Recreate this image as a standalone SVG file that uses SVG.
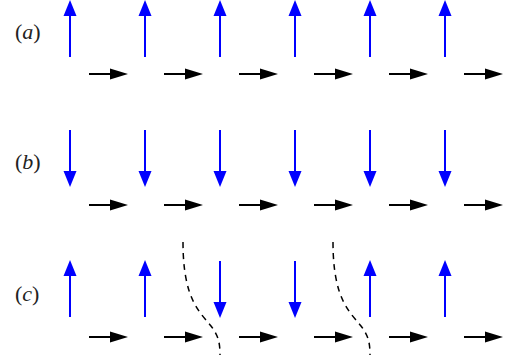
<svg xmlns="http://www.w3.org/2000/svg" width="514" height="362" viewBox="0 0 514 362">
<style>
.b{stroke:#0000ff;stroke-width:2;fill:none}
.bh{fill:#0000ff}
.k{stroke:#000;stroke-width:2;fill:none}
.kh{fill:#000}
.d{stroke:#000;stroke-width:1.5;fill:none;stroke-dasharray:6,5}
.lbl{font-family:"Liberation Serif","DejaVu Serif",serif;font-size:22px;fill:#222}
.it{font-style:italic}
</style>
<defs>
<g id="up"><line class="b" x1="0" y1="57" x2="0" y2="12"/><polygon class="bh" points="-6.5,16 0,0 6.5,16"/></g>
<g id="down"><line class="b" x1="0" y1="0" x2="0" y2="45"/><polygon class="bh" points="-6.5,41 0,57 6.5,41"/></g>
<g id="right"><line class="k" x1="0" y1="0" x2="24" y2="0"/><polygon class="kh" points="21,-5.5 39,0 21,5.5"/></g>
</defs>
<g id="labels">
<text class="lbl" x="15" y="39">(<tspan class="it">a</tspan>)</text>
<text class="lbl" x="15" y="169">(<tspan class="it">b</tspan>)</text>
<text class="lbl" x="15" y="301">(<tspan class="it">c</tspan>)</text>
</g>
<g id="row-a">
<use href="#up" x="70" y="0"/><use href="#up" x="145" y="0"/><use href="#up" x="220" y="0"/>
<use href="#up" x="295" y="0"/><use href="#up" x="370" y="0"/><use href="#up" x="445" y="0"/>
<use href="#right" x="89" y="74"/><use href="#right" x="164" y="74"/><use href="#right" x="239" y="74"/>
<use href="#right" x="314" y="74"/><use href="#right" x="389" y="74"/><use href="#right" x="464" y="74"/>
</g>
<g id="row-b">
<use href="#down" x="70" y="130"/><use href="#down" x="145" y="130"/><use href="#down" x="220" y="130"/>
<use href="#down" x="295" y="130"/><use href="#down" x="370" y="130"/><use href="#down" x="445" y="130"/>
<use href="#right" x="89" y="205"/><use href="#right" x="164" y="205"/><use href="#right" x="239" y="205"/>
<use href="#right" x="314" y="205"/><use href="#right" x="389" y="205"/><use href="#right" x="464" y="205"/>
</g>
<g id="row-c">
<use href="#up" x="70" y="260"/><use href="#up" x="145" y="260"/><use href="#down" x="220" y="261"/>
<use href="#down" x="295" y="261"/><use href="#up" x="370" y="260"/><use href="#up" x="445" y="260"/>
<use href="#right" x="89" y="337"/><use href="#right" x="164" y="337"/><use href="#right" x="239" y="337"/>
<use href="#right" x="314" y="337"/><use href="#right" x="389" y="337"/><use href="#right" x="464" y="337"/>
</g>
<g id="connectors">
<path class="d" d="M183,242 C183,300 200,312 211,326 C218,335 220,342 220,355"/>
<path class="d" d="M333,242 C333,300 350,312 361,326 C368,335 370,342 370,355"/>
</g>
</svg>
